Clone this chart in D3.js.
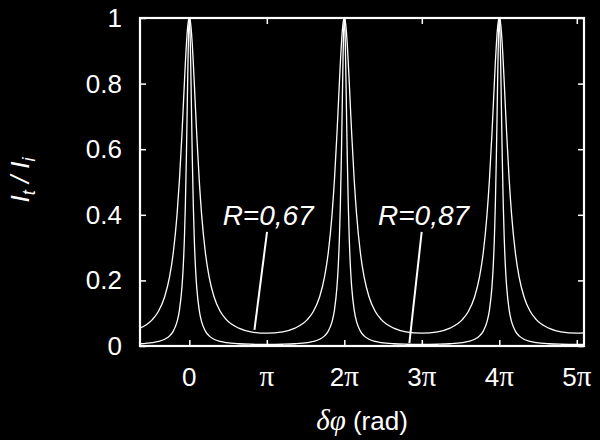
<!DOCTYPE html>
<html><head><meta charset="utf-8">
<script src="https://cdn.jsdelivr.net/npm/d3@7/dist/d3.min.js"></script>
<style>html,body{margin:0;padding:0;background:#000;}svg{display:block;}</style>
</head><body>
<script>
// phase difference (rad)
const phase = [
 -2.0,-1.5,-1.25,-1.0,-0.8,-0.65,-0.5,-0.4,-0.3,-0.25,-0.2,-0.16,-0.12,-0.09,-0.06,-0.03,0,0.03,0.06,0.09,0.12,0.16,0.2,0.25,0.3,0.4,0.5,0.65,0.8,1.0,1.25,1.5,2.0,2.5,3.1416,
 3.7832,4.2832,4.7832,5.0332,5.2832,5.4832,5.6332,5.7832,5.8832,5.9832,6.0332,6.0832,6.1232,6.1632,6.1932,6.2232,6.2532,6.2832,6.3132,6.3432,6.3732,6.4032,6.4432,6.4832,6.5332,6.5832,6.6832,6.7832,6.9332,7.0832,7.2832,7.5332,7.7832,8.2832,8.7832,9.4248,
 10.0664,10.5664,11.0664,11.3164,11.5664,11.7664,11.9164,12.0664,12.1664,12.2664,12.3164,12.3664,12.4064,12.4464,12.4764,12.5064,12.5364,12.5664,12.5964,12.6264,12.6564,12.6864,12.7264,12.7664,12.8164,12.8664,12.9664,13.0664,13.2164,13.3664,13.5664,13.8164,14.0664,14.5664,15.0664,15.708,16.0
];
// transmission, R = 0,67
const transR67 = [
 0.0543,0.0804,0.1061,0.1502,0.2113,0.2850,0.3990,0.5073,0.6453,0.7233,0.8030,0.8642,0.9187,0.9526,0.9783,0.9945,1,0.9945,0.9783,0.9526,0.9187,0.8642,0.8030,0.7233,0.6453,0.5073,0.3990,0.2850,0.2113,0.1502,0.1061,0.0804,0.0543,0.0432,0.0390,
 0.0432,0.0543,0.0804,0.1061,0.1502,0.2113,0.2850,0.3990,0.5073,0.6453,0.7233,0.8030,0.8642,0.9187,0.9526,0.9783,0.9945,1,0.9945,0.9783,0.9526,0.9187,0.8642,0.8030,0.7233,0.6453,0.5073,0.3990,0.2850,0.2113,0.1502,0.1061,0.0804,0.0543,0.0432,0.0390,
 0.0432,0.0543,0.0804,0.1061,0.1502,0.2113,0.2850,0.3990,0.5073,0.6453,0.7233,0.8030,0.8642,0.9187,0.9526,0.9783,0.9945,1,0.9945,0.9783,0.9526,0.9187,0.8642,0.8030,0.7233,0.6453,0.5073,0.3990,0.2850,0.2113,0.1502,0.1061,0.0804,0.0543,0.0432,0.0390,0.0399
];
// transmission, R = 0,87
const transR87 = [
 0.0068,0.0103,0.0140,0.0207,0.0310,0.0455,0.0735,0.1096,0.1786,0.2380,0.3276,0.4319,0.5746,0.7059,0.8437,0.9557,1,0.9557,0.8437,0.7059,0.5746,0.4319,0.3276,0.2380,0.1786,0.1096,0.0735,0.0455,0.0310,0.0207,0.0140,0.0103,0.0068,0.0054,0.0048,
 0.0054,0.0068,0.0103,0.0140,0.0207,0.0310,0.0455,0.0735,0.1096,0.1786,0.2380,0.3276,0.4319,0.5746,0.7059,0.8437,0.9557,1,0.9557,0.8437,0.7059,0.5746,0.4319,0.3276,0.2380,0.1786,0.1096,0.0735,0.0455,0.0310,0.0207,0.0140,0.0103,0.0068,0.0054,0.0048,
 0.0054,0.0068,0.0103,0.0140,0.0207,0.0310,0.0455,0.0735,0.1096,0.1786,0.2380,0.3276,0.4319,0.5746,0.7059,0.8437,0.9557,1,0.9557,0.8437,0.7059,0.5746,0.4319,0.3276,0.2380,0.1786,0.1096,0.0735,0.0455,0.0310,0.0207,0.0140,0.0103,0.0068,0.0054,0.0048,0.0049
];
const xTickValues = [0, Math.PI, 2*Math.PI, 3*Math.PI, 4*Math.PI, 5*Math.PI];
const xTickPrefix = ["0", "", "2", "3", "4", "5"];
const xTickHasPi = [false, true, true, true, true, true];
const yTickValues = [0, 0.2, 0.4, 0.6, 0.8, 1];
const yTickLabels = ["0", "0.2", "0.4", "0.6", "0.8", "1"];
const annotations = [
  {text: "R=0,67", tx: 1.35, ty: 0.37, x1: 3.15, y1: 0.348, x2: 2.64, y2: 0.049},
  {text: "R=0,87", tx: 7.65, ty: 0.37, x1: 9.42, y1: 0.348, x2: 8.92, y2: 0.009}
];

const W = 600, H = 440;
const m = {left: 140, right: 16, top: 18, bottom: 94};
const svg = d3.select("body").append("svg").attr("width", W).attr("height", H)
  .style("background", "#000");
const x = d3.scaleLinear().domain([-2, 16]).range([m.left, W - m.right]);
const y = d3.scaleLinear().domain([0, 1]).range([H - m.bottom, m.top]);
const font = "'Liberation Sans', Arial, Helvetica, sans-serif";
const serif = "'Liberation Serif', 'DejaVu Serif', serif";

svg.append("clipPath").attr("id", "c").append("rect")
  .attr("x", x(-2)).attr("y", y(1) - 2).attr("width", x(16) - x(-2)).attr("height", y(0) - y(1) + 2);

const line = d3.line().x(d => x(d[0])).y(d => y(d[1])).curve(d3.curveMonotoneX);
[transR67, transR87].forEach(vals => {
  svg.append("path").attr("clip-path", "url(#c)")
    .datum(phase.map((p, i) => [p, vals[i]]))
    .attr("d", line).attr("fill", "none").attr("stroke", "#fff").attr("stroke-width", 1.3);
});

// axes with inward ticks on all sides
const tl = 6;
const axB = svg.append("g").attr("transform", `translate(0,${y(0)})`)
  .call(d3.axisTop(x).tickValues(xTickValues).tickSize(tl).tickFormat(""));
const axT = svg.append("g").attr("transform", `translate(0,${y(1)})`)
  .call(d3.axisBottom(x).tickValues(xTickValues).tickSize(tl).tickFormat(""));
const axL = svg.append("g").attr("transform", `translate(${x(-2)},0)`)
  .call(d3.axisRight(y).tickValues(yTickValues).tickSize(tl).tickFormat(""));
const axR = svg.append("g").attr("transform", `translate(${x(16)},0)`)
  .call(d3.axisLeft(y).tickValues(yTickValues).tickSize(tl).tickFormat(""));
[axB, axT, axL, axR].forEach(a => {
  a.select(".domain").remove();
  a.selectAll("line").attr("stroke", "#fff").attr("stroke-width", 1.5);
});
svg.append("rect").attr("x", x(-2)).attr("y", y(1)).attr("width", x(16) - x(-2))
  .attr("height", y(0) - y(1)).attr("fill", "none").attr("stroke", "#fff").attr("stroke-width", 2.2);

// y tick labels
svg.append("g").selectAll("text").data(yTickValues).join("text")
  .attr("x", x(-2) - 18).attr("y", d => y(d) + 9)
  .attr("text-anchor", "end").attr("fill", "#fff")
  .style("font-family", font).style("font-size", "26px")
  .text((d, i) => yTickLabels[i]);

// x tick labels
const xl = svg.append("g").selectAll("text").data(xTickValues).join("text")
  .attr("x", d => x(d)).attr("y", y(0) + 40)
  .attr("text-anchor", "middle").attr("fill", "#fff")
  .style("font-family", font).style("font-size", "26px");
xl.each(function(d, i) {
  const t = d3.select(this);
  if (xTickPrefix[i]) t.append("tspan").text(xTickPrefix[i]);
  if (xTickHasPi[i]) t.append("tspan").style("font-family", serif).style("font-size", "29px").text("π");
});

// axis titles
const xt = svg.append("text").attr("x", 362).attr("y", 430).attr("text-anchor", "middle")
  .attr("fill", "#fff").style("font-family", font).style("font-size", "26px");
xt.append("tspan").style("font-style", "italic").style("font-family", serif).style("font-size", "29px").text("δφ");
xt.append("tspan").text(" (rad)");

const yt = svg.append("text").attr("transform", "translate(29,180) rotate(-90)")
  .attr("text-anchor", "middle").attr("fill", "#fff")
  .style("font-family", font).style("font-size", "26px").style("font-style", "italic");
yt.append("tspan").text("I");
yt.append("tspan").attr("dy", 6).style("font-size", "18px").text("t");
yt.append("tspan").attr("dy", -6).text(" / I");
yt.append("tspan").attr("dy", 6).style("font-size", "18px").text("i");

// annotations
annotations.forEach(a => {
  svg.append("text").attr("x", x(a.tx)).attr("y", y(a.ty)).attr("fill", "#fff")
    .style("font-family", font).style("font-size", "28px").style("font-style", "italic").text(a.text);
  svg.append("line").attr("x1", x(a.x1)).attr("y1", y(a.y1)).attr("x2", x(a.x2)).attr("y2", y(a.y2))
    .attr("stroke", "#fff").attr("stroke-width", 2);
});
</script>
</body></html>
